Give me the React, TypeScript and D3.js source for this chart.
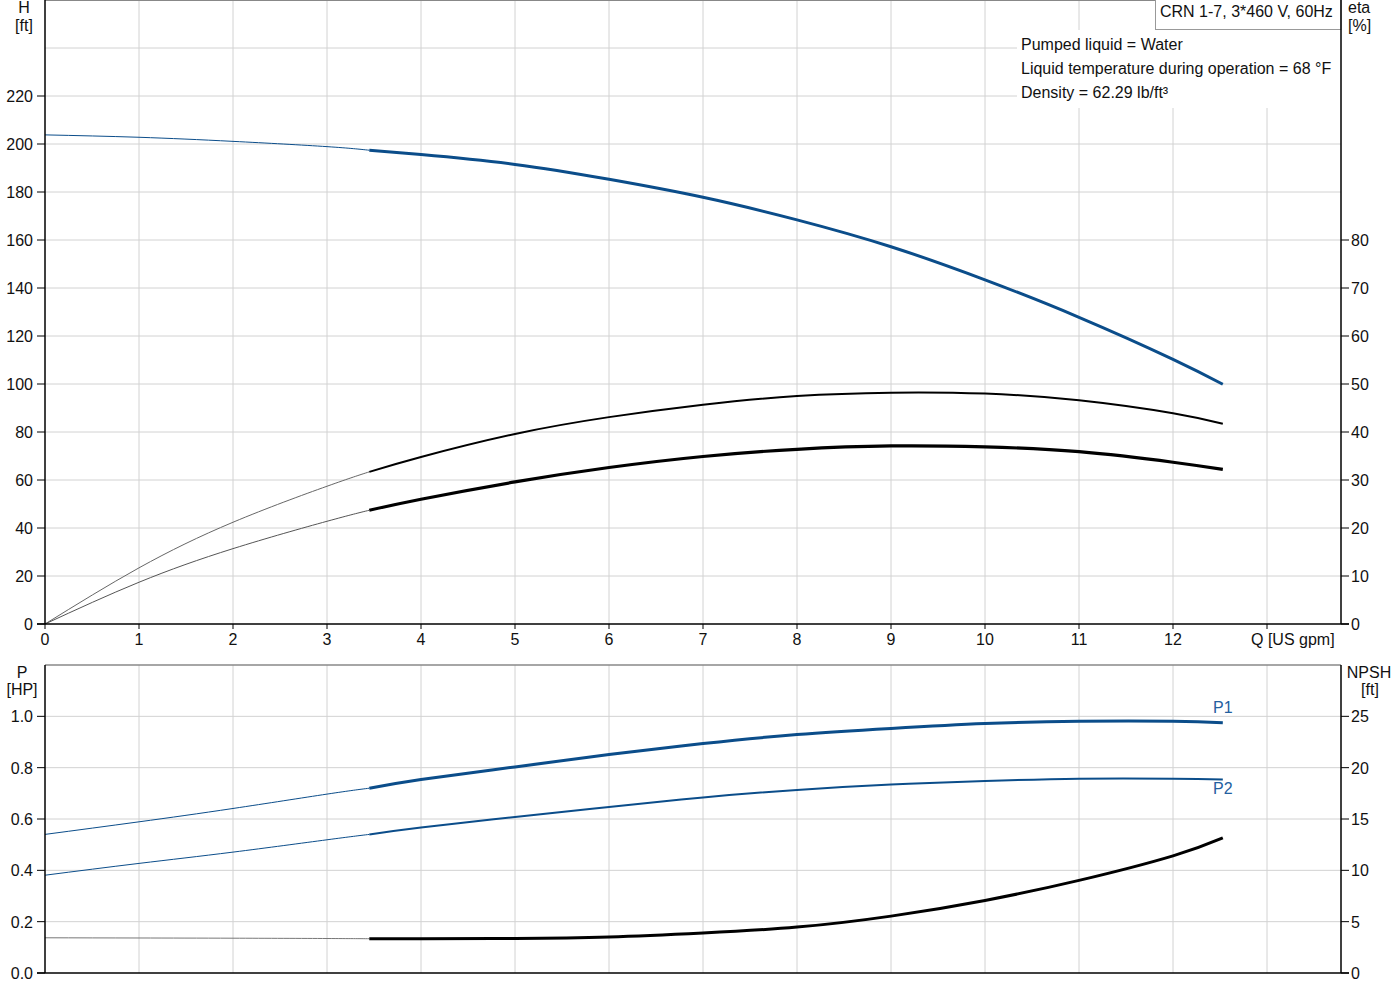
import * as React from 'react';
import * as d3 from 'd3';

// Flow points. Thin part is outside the operating range, thick part inside it.
const qThin = [0, 1, 2, 3, 3.45];
const qThick = [3.45, 4, 5, 6, 7, 8, 9, 10, 11, 12, 12.53];

// Head [ft]
const headThin = [203.8, 202.8, 201.1, 198.9, 197.4];
const headThick = [197.4, 195.6, 191.5, 185.3, 177.8, 168.4, 157.2, 143.4, 127.8, 110.3, 99.9];

// Efficiency [%] (pump, and pump + motor)
const etaPumpThin = [0, 11.7, 21.2, 28.7, 31.7];
const etaPumpThick = [31.7, 34.8, 39.6, 43.1, 45.7, 47.5, 48.2, 48.0, 46.6, 43.9, 41.7];
const etaTotalThin = [0, 8.7, 15.7, 21.4, 23.7];
const etaTotalThick = [23.7, 26.0, 29.6, 32.6, 34.9, 36.4, 37.1, 36.9, 35.9, 33.7, 32.2];

// Power [HP]
const p1Thin = [0.54, 0.589, 0.641, 0.697, 0.72];
const p1Thick = [0.72, 0.754, 0.803, 0.851, 0.894, 0.929, 0.953, 0.972, 0.981, 0.981, 0.975];
const p2Thin = [0.381, 0.427, 0.471, 0.519, 0.54];
const p2Thick = [0.54, 0.567, 0.608, 0.647, 0.684, 0.713, 0.734, 0.748, 0.757, 0.757, 0.754];

// NPSH [ft]
const npshThin = [3.43, 3.41, 3.39, 3.36, 3.34];
const npshThick = [3.34, 3.34, 3.36, 3.5, 3.89, 4.47, 5.54, 7.07, 9.02, 11.41, 13.16];

// Tick labels
const qTicks = [0, 1, 2, 3, 4, 5, 6, 7, 8, 9, 10, 11, 12];
const qGrid = [1, 2, 3, 4, 5, 6, 7, 8, 9, 10, 11, 12, 13];
const headTicks = [0, 20, 40, 60, 80, 100, 120, 140, 160, 180, 200, 220];
const headGrid = [20, 40, 60, 80, 100, 120, 140, 160, 180, 200, 220, 240];
const etaTicks = [0, 10, 20, 30, 40, 50, 60, 70, 80];
const powerTicks = [0, 0.2, 0.4, 0.6, 0.8, 1.0];
const npshTicks = [0, 5, 10, 15, 20, 25];

const infoLines = [
  'Pumped liquid = Water',
  'Liquid temperature during operation = 68 °F',
  'Density = 62.29 lb/ft³',
];
const title = 'CRN 1-7, 3*460 V, 60Hz';

const BLUE = '#0b4d8a';
const GRID = '#d2d2d2';
const FONT = '"Liberation Sans", Arial, sans-serif';

const left = 45;
const right = 1341;

const x = d3.scaleLinear().domain([0, 13]).range([left, 1267]);
const yHead = d3.scaleLinear().domain([0, 260]).range([624, 0]);
const yEta = d3.scaleLinear().domain([0, 130]).range([624, 0]);
const yPower = d3.scaleLinear().domain([0, 1.2]).range([973, 665]);
const yNpsh = d3.scaleLinear().domain([0, 30]).range([973, 665]);

function path(qs: number[], vs: number[], y: d3.ScaleLinear<number, number>): string {
  const line = d3
    .line<number>()
    .x((_, i) => x(qs[i]))
    .y((v) => y(v))
    .curve(d3.curveNatural);
  return line(vs) || '';
}

const App = () => {
  const txt = { fontFamily: FONT, fontSize: 16, fill: '#111' } as const;

  return (
    <svg
      width={1400}
      height={1000}
      style={{ position: 'absolute', left: 0, top: 0, background: '#fff' }}
    >
      {/* ---------- Top chart: H and eta ---------- */}
      {qGrid.map((q) => (
        <line key={'vg' + q} x1={x(q)} x2={x(q)} y1={0} y2={624} stroke={GRID} />
      ))}
      {headGrid.map((h) => (
        <line key={'hg' + h} x1={left} x2={right} y1={yHead(h)} y2={yHead(h)} stroke={GRID} />
      ))}
      <line x1={left} x2={right} y1={0.5} y2={0.5} stroke="#888" />

      {/* info text box hides the grid */}
      <rect x={1017} y={30} width={right - 1017} height={78} fill="#fff" />
      {infoLines.map((s, i) => (
        <text key={s} x={1021} y={50 + i * 24} {...txt}>
          {s}
        </text>
      ))}
      <rect x={1155.5} y={-1} width={right - 1155.5} height={30.5} fill="#fff" stroke="#999" />
      <text x={1160} y={17} {...txt}>
        {title}
      </text>

      {/* head */}
      <path d={path(qThin, headThin, yHead)} fill="none" stroke={BLUE} strokeWidth={1} />
      <path d={path(qThick, headThick, yHead)} fill="none" stroke={BLUE} strokeWidth={3} />
      {/* efficiencies */}
      <path d={path(qThin, etaPumpThin, yEta)} fill="none" stroke="#666" strokeWidth={1} />
      <path d={path(qThick, etaPumpThick, yEta)} fill="none" stroke="#000" strokeWidth={2} />
      <path d={path(qThin, etaTotalThin, yEta)} fill="none" stroke="#555" strokeWidth={1} />
      <path d={path(qThick, etaTotalThick, yEta)} fill="none" stroke="#000" strokeWidth={3.2} />

      {/* axes */}
      <line x1={left} x2={left} y1={0} y2={624} stroke="#000" strokeWidth={1.5} />
      <line x1={right} x2={right} y1={0} y2={624} stroke="#000" strokeWidth={1.5} />
      <line x1={left - 8} x2={right + 8} y1={624} y2={624} stroke="#000" strokeWidth={1.5} />
      {headTicks.map((h) => (
        <g key={'ht' + h}>
          <line x1={left - 8} x2={left} y1={yHead(h)} y2={yHead(h)} stroke="#000" />
          <text x={33} y={yHead(h) + 6} textAnchor="end" {...txt}>
            {h}
          </text>
        </g>
      ))}
      {etaTicks.map((e) => (
        <g key={'et' + e}>
          <line x1={right} x2={right + 8} y1={yEta(e)} y2={yEta(e)} stroke="#000" />
          <text x={1351} y={yEta(e) + 6} {...txt}>
            {e}
          </text>
        </g>
      ))}
      {qTicks.map((q) => (
        <g key={'qt' + q}>
          <line x1={x(q)} x2={x(q)} y1={624} y2={629} stroke="#000" />
          <text x={x(q)} y={645} textAnchor="middle" {...txt}>
            {q}
          </text>
        </g>
      ))}
      <line x1={x(13)} x2={x(13)} y1={624} y2={629} stroke="#000" />
      <text x={1251} y={645} {...txt}>
        Q [US gpm]
      </text>
      <text x={24} y={13} textAnchor="middle" {...txt}>
        H
      </text>
      <text x={24} y={31} textAnchor="middle" {...txt}>
        [ft]
      </text>
      <text x={1348} y={13} {...txt}>
        eta
      </text>
      <text x={1348} y={31} {...txt}>
        [%]
      </text>

      {/* ---------- Bottom chart: P and NPSH ---------- */}
      {qGrid.map((q) => (
        <line key={'bvg' + q} x1={x(q)} x2={x(q)} y1={665} y2={973} stroke={GRID} />
      ))}
      {powerTicks.slice(1).map((p) => (
        <line key={'bhg' + p} x1={left} x2={right} y1={yPower(p)} y2={yPower(p)} stroke={GRID} />
      ))}
      <line x1={left} x2={right} y1={665} y2={665} stroke="#888" strokeWidth={1.5} />

      <path d={path(qThin, p1Thin, yPower)} fill="none" stroke={BLUE} strokeWidth={1} />
      <path d={path(qThick, p1Thick, yPower)} fill="none" stroke={BLUE} strokeWidth={3} />
      <path d={path(qThin, p2Thin, yPower)} fill="none" stroke={BLUE} strokeWidth={1} />
      <path d={path(qThick, p2Thick, yPower)} fill="none" stroke={BLUE} strokeWidth={2} />
      <path d={path(qThin, npshThin, yNpsh)} fill="none" stroke="#777" strokeWidth={1} />
      <path d={path(qThick, npshThick, yNpsh)} fill="none" stroke="#000" strokeWidth={3} />

      <text x={x(12.53)} y={713} textAnchor="middle" {...txt} fill="#2360a0">
        P1
      </text>
      <text x={x(12.53)} y={794} textAnchor="middle" {...txt} fill="#2360a0">
        P2
      </text>

      <line x1={left} x2={left} y1={665} y2={973} stroke="#000" strokeWidth={1.5} />
      <line x1={right} x2={right} y1={665} y2={973} stroke="#000" strokeWidth={1.5} />
      <line x1={left - 8} x2={right + 8} y1={973} y2={973} stroke="#000" strokeWidth={1.5} />
      {powerTicks.map((p) => (
        <g key={'pt' + p}>
          <line x1={left - 8} x2={left} y1={yPower(p)} y2={yPower(p)} stroke="#000" />
          <text x={33} y={yPower(p) + 6} textAnchor="end" {...txt}>
            {p.toFixed(1)}
          </text>
        </g>
      ))}
      {npshTicks.map((n) => (
        <g key={'nt' + n}>
          <line x1={right} x2={right + 8} y1={yNpsh(n)} y2={yNpsh(n)} stroke="#000" />
          <text x={1351} y={yNpsh(n) + 6} {...txt}>
            {n}
          </text>
        </g>
      ))}
      <text x={22} y={678} textAnchor="middle" {...txt}>
        P
      </text>
      <text x={22} y={695} textAnchor="middle" {...txt}>
        [HP]
      </text>
      <text x={1369} y={678} textAnchor="middle" {...txt}>
        NPSH
      </text>
      <text x={1370} y={695} textAnchor="middle" {...txt}>
        [ft]
      </text>
    </svg>
  );
};

export default App;
